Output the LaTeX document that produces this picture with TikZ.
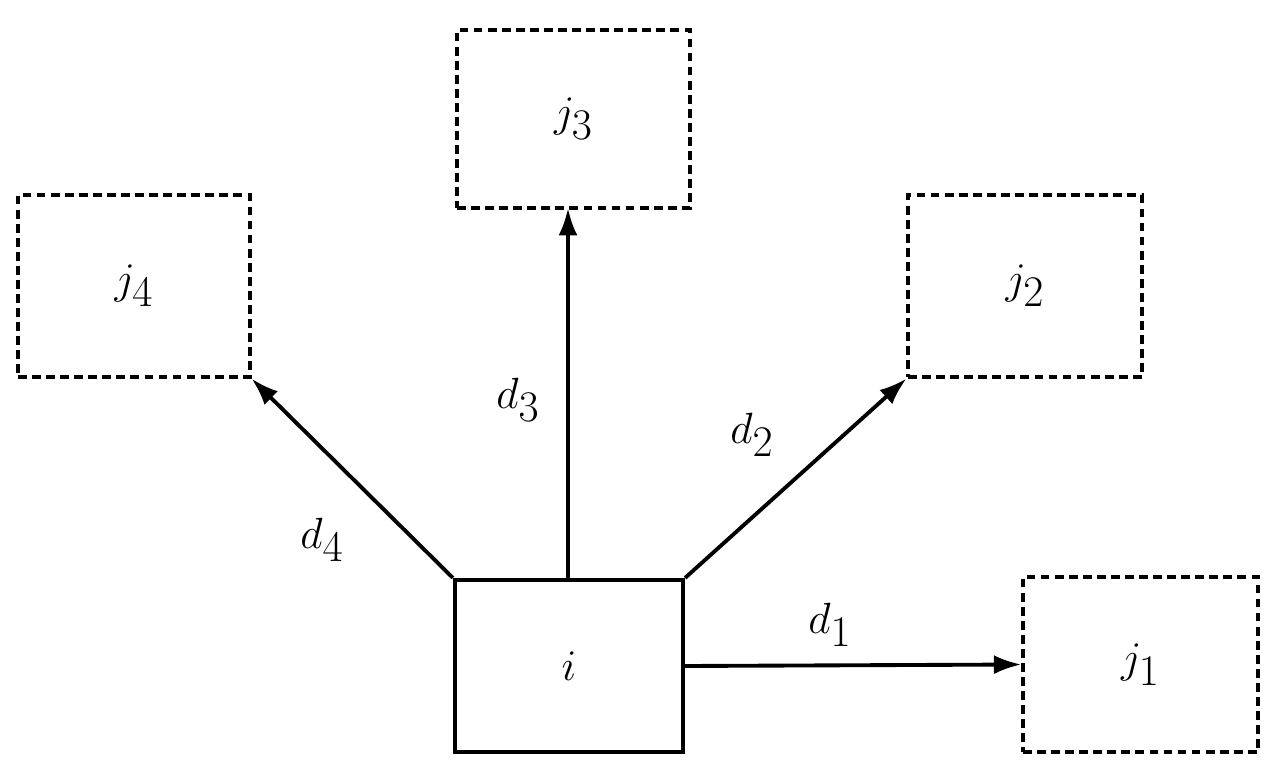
\documentclass[tikz,border=0pt]{standalone}
\usetikzlibrary{arrows.meta}
\begin{document}
\begin{tikzpicture}[x=0.02cm,y=-0.02cm,
  solid box/.style={draw, line width=2.4pt, inner sep=0pt, minimum width=#1},
  ghost/.style={draw, dashed, dash pattern=on 5pt off 3pt, line width=1.8pt, inner sep=0pt},
  link/.style={line width=2.2pt, -{Latex[length=0.55cm,width=0.38cm]}},
  lbl/.style={font=\fontsize{34}{40}\selectfont}]
 \useasboundingbox (0,0) rectangle (1277,777);
 \node (i) [solid box=4.56cm, minimum height=3.44cm, lbl] at (569,666) {$i$};
 \node (j3) [ghost, minimum width=4.66cm, minimum height=3.56cm, lbl] at (573.5,119) {$j_3$};
 \node (j4) [ghost, minimum width=4.64cm, minimum height=3.64cm, lbl] at (134,286) {$j_4$};
 \node (j2) [ghost, minimum width=4.68cm, minimum height=3.64cm, lbl] at (1025,286) {$j_2$};
 \node (j1) [ghost, minimum width=4.7cm, minimum height=3.5cm, lbl] at (1140.5,664.5) {$j_1$};
 \coordinate (a3) at (568,580);
 \coordinate (b3) at (568,208);
 \draw [link] (i.north west) -- (j4.south east);
 \draw [link] (a3) -- (b3);
 \draw [link] (i.north east) -- (j2.south west);
 \draw [link] (i.east) -- (j1.west);
 \node (d4) [lbl] at (322,540) {$d_4$};
 \node (d3) [lbl] at (518,400) {$d_3$};
 \node (d2) [lbl] at (752,435) {$d_2$};
 \node (d1) [lbl] at (830,625) {$d_1$};
\end{tikzpicture}
\end{document}
